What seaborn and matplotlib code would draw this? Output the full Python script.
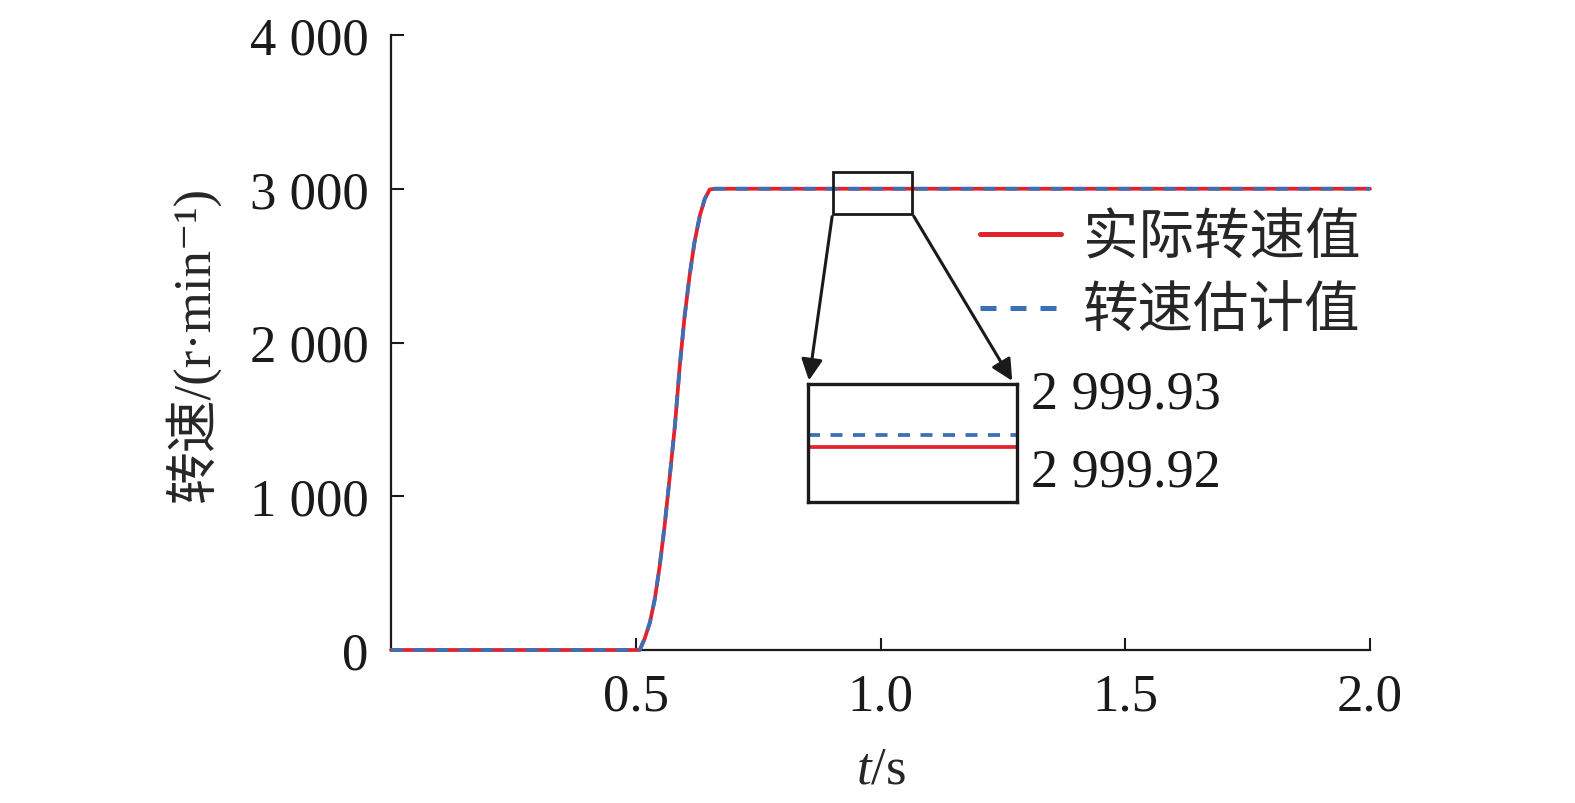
import numpy as np
import pandas as pd
import matplotlib
matplotlib.use("Agg")
import matplotlib.pyplot as plt
from matplotlib.patches import Rectangle
import seaborn as sns

# speed response
t = [0.0, 0.5, 0.508, 0.518, 0.529, 0.539, 0.549, 0.559, 0.569, 0.580, 0.590,
     0.600, 0.610, 0.620, 0.631, 0.641, 0.651, 0.661, 1.0, 2.0]
speed_real = [0, 0, 0, 72, 180, 332, 548, 809, 1113, 1459, 1850,
              2175, 2435, 2653, 2826, 2934, 2995, 3000, 3000, 3000]
speed_est = [0, 0, 0, 72, 180, 332, 548, 809, 1113, 1459, 1850,
             2175, 2435, 2653, 2826, 2934, 2995, 3000, 3000, 3000]

# zoomed window values
t_zoom = [0.902, 1.065]
real_zoom = [2999.9225, 2999.9225]
est_zoom = [2999.924, 2999.924]

xticks = [0.5, 1.0, 1.5, 2.0]
xticklabels = ["0.5", "1.0", "1.5", "2.0"]
yticks = [0, 1000, 2000, 3000, 4000]
yticklabels = ["0", "1 000", "2 000", "3 000", "4 000"]
labels = ["实际转速值", "转速估计值"]

red = "#e1232d"
blue = "#3b6fb6"

sns.set_style("ticks")
plt.rcParams["font.family"] = ["Liberation Serif", "DejaVu Serif", "Noto Sans CJK SC"]
plt.rcParams["mathtext.fontset"] = "custom"
plt.rcParams["mathtext.rm"] = "Liberation Serif"
plt.rcParams["mathtext.it"] = "Liberation Serif:italic"

df = pd.DataFrame({"t": t, "real": speed_real, "est": speed_est})
dz = pd.DataFrame({"t": t_zoom, "real": real_zoom, "est": est_zoom})

fig = plt.figure(figsize=(15.75, 8.04), dpi=100)
ax = fig.add_axes([391/1575, 1-651/804, (1370-391)/1575, (651-36)/804])

sns.lineplot(data=df, x="t", y="real", ax=ax, color=red, lw=2.7,
             label=labels[0], clip_on=False, zorder=5)
sns.lineplot(data=df, x="t", y="est", ax=ax, color=blue, lw=2.7,
             linestyle=(0, (3.2, 2.8)), label=labels[1], clip_on=False, zorder=6)

ax.set_xlim(0, 2.0)
ax.set_ylim(0, 4000)
ax.set_xticks(xticks)
ax.set_xticklabels(xticklabels)
ax.set_yticks(yticks)
ax.set_yticklabels(yticklabels)
ax.tick_params(direction="in", length=9, width=1.5, labelsize=38, colors="#1a1a1a")
ax.tick_params(axis="y", pad=16)
ax.tick_params(axis="x", pad=16)
for s in ["top", "right"]:
    ax.spines[s].set_visible(False)
for s in ["left", "bottom"]:
    ax.spines[s].set_linewidth(1.6)
    ax.spines[s].set_color("#1a1a1a")

ax.set_xlabel("$t$/s", fontsize=38, labelpad=18)
ax.set_ylabel("转速/(r·min⁻¹)", fontsize=38, labelpad=22)

ax.legend(loc="upper left", bbox_to_anchor=(0.602, 0.71), frameon=False,
          fontsize=40, handlelength=1.45, handletextpad=0.4,
          labelspacing=0.39, borderpad=0, borderaxespad=0)
for lh in ax.get_legend().get_lines():
    lh.set_linewidth(3.6)

# zoom window marker
ax.add_patch(Rectangle((0.902, 2837), 1.065-0.902, 3112-2837, fill=False,
                       ec="#1a1a1a", lw=2.0, zorder=7))
arr = dict(arrowstyle="-|>", color="#1a1a1a", lw=2.2, mutation_scale=32)
ax.annotate("", xy=(0.853, 1735), xytext=(0.902, 2837), arrowprops=arr)
ax.annotate("", xy=(1.272, 1735), xytext=(1.065, 2837), arrowprops=arr)

# inset
axin = fig.add_axes([808/1575, 1-503/804, (1017-808)/1575, (503-385)/804])
sns.lineplot(data=dz, x="t", y="real", ax=axin, color=red, lw=2.7)
sns.lineplot(data=dz, x="t", y="est", ax=axin, color=blue, lw=2.7,
             linestyle=(0, (3.2, 2.8)))
axin.set_xlim(0.902, 1.065)
axin.set_ylim(2999.9154, 2999.9305)
axin.set_xticks([])
axin.set_yticks([2999.92, 2999.93])
axin.set_yticklabels(["2 999.92", "2 999.93"])
axin.yaxis.tick_right()
axin.tick_params(axis="y", length=0, pad=10, labelsize=39, colors="#1a1a1a")
axin.set_xlabel("")
axin.set_ylabel("")
for s in axin.spines.values():
    s.set_linewidth(2.4)
    s.set_color("#1a1a1a")

fig.savefig("out.png", dpi=100)
